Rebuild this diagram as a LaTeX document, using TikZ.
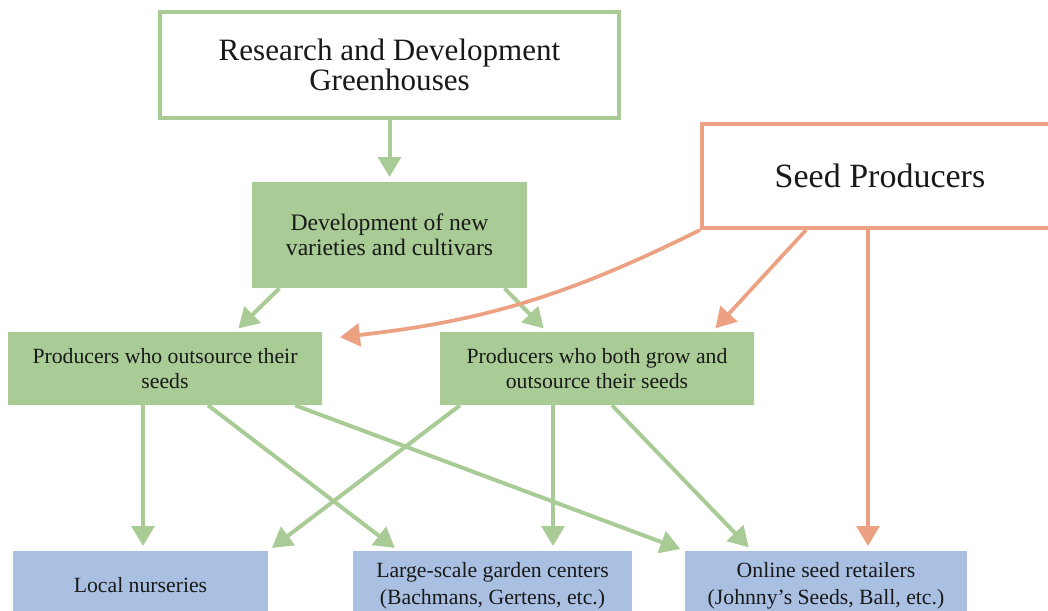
\documentclass[tikz,border=0pt]{standalone}
\usepackage{fontspec}
\setmainfont{Liberation Serif}
\usetikzlibrary{arrows.meta,calc}
\definecolor{gr}{RGB}{169,204,150}
\definecolor{orng}{RGB}{236,162,130}
\definecolor{bl}{RGB}{170,192,226}
\definecolor{ink}{RGB}{25,25,25}
\begin{document}
\begin{tikzpicture}[x=0.75pt,y=-0.75pt,
  every node/.style={text=ink, align=center, inner sep=0pt},
  outlinebox/.style={draw, line width=3pt, fill=white},
  greenbox/.style={fill=gr},
  bluebox/.style={fill=bl},
  small/.style={font=\fontsize{16.3}{19}\selectfont},
  garr/.style={draw=gr, line width=3pt, -{Triangle[width=17pt,length=15pt]}, shorten >=3.5pt},
  oarr/.style={draw=orng, line width=2.8pt, -{Triangle[width=17pt,length=15pt]}, shorten >=3.5pt}]
\clip (0,0) rectangle (1048,610);
% top boxes
\node[outlinebox, draw=gr, minimum width=344.25pt, minimum height=79.5pt,
      font=\fontsize{23.3}{23}\selectfont] (rd) at (389.5,65)
      {Research and Development\\Greenhouses};
\node[outlinebox, draw=orng, minimum width=267pt, minimum height=78pt,
      font=\fontsize{25.5}{28}\selectfont] (seed) at (880,176) {Seed Producers};
% middle
\node[greenbox, minimum width=206.25pt, minimum height=79.5pt,
      font=\fontsize{17.7}{19}\selectfont] (dev) at (389.5,235)
      {Development of new\\varieties and cultivars};
\node[greenbox, small, minimum width=235.5pt, minimum height=54.75pt] (out) at (165,368.5)
      {Producers who outsource their\\seeds};
\node[greenbox, small, minimum width=235.5pt, minimum height=54.75pt] (both) at (597,368.5)
      {Producers who both grow and\\outsource their seeds};
% bottom
\node[bluebox, minimum width=191.25pt, minimum height=59.25pt] (local) at (140.5,590.5) {};
\node[bluebox, minimum width=209.25pt, minimum height=59.25pt] (large) at (492.5,590.5) {};
\node[bluebox, minimum width=211.5pt, minimum height=59.25pt] (online) at (826,590.5) {};
\node[small] (localT) at (140.5,585) {Local nurseries};
\node[small, font=\fontsize{16.3}{20}\selectfont] (largeT) at (492.5,585.5) {Large-scale garden centers\\(Bachmans, Gertens, etc.)};
\node[small, font=\fontsize{16.3}{20}\selectfont] (onlineT) at (826,585.5) {Online seed retailers\\(Johnny’s Seeds, Ball, etc.)};
% arrows
\draw[garr] (rd.south) -- (dev.north);
\draw[garr] ($(dev.south)+(-110,0)$) -- ($(out.north)+(70,0)$);
\draw[garr] ($(dev.south)+(115,0)$) -- ($(both.north)+(-50,0)$);
\draw[oarr] (seed.south west) to[bend left=10] ($(out.north east)+(13,6)$);
\draw[oarr] ($(seed.south)+(-74,0)$) -- ($(both.north east)+(-42,0)$);
\draw[oarr] ($(seed.south)+(-12,0)$) -- ($(online.north)+(42,0)$);
\draw[garr] ($(out.south)+(-22,0)$) -- ($(local.north)+(2.5,0)$);
\draw[garr] ($(out.south)+(43,0)$) -- ($(large.north)+(-94,0)$);
\draw[garr] ($(out.south)+(130,0)$) -- (online.north west);
\draw[garr] ($(both.south)+(-137,0)$) -- (local.north east);
\draw[garr] ($(both.south)+(-44,0)$) -- ($(large.north)+(60.5,0)$);
\draw[garr] ($(both.south)+(15,0)$) -- ($(online.north)+(-74,0)$);
\end{tikzpicture}
\end{document}
